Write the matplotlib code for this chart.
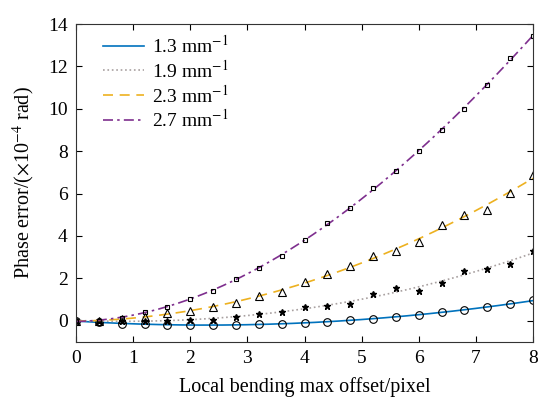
import numpy as np
import matplotlib
matplotlib.use("Agg")
import matplotlib.pyplot as plt

plt.rcParams['font.family'] = ['Liberation Serif', 'DejaVu Serif']
plt.rcParams['mathtext.fontset'] = 'stix'

x = [0, 0.4, 0.8, 1.2, 1.6, 2.0, 2.4, 2.8, 3.2, 3.6, 4.0, 4.4, 4.8, 5.2, 5.6, 6.0, 6.4, 6.8, 7.2, 7.6, 8.0]
y13 = [0, -0.07, -0.14, -0.17, -0.2, -0.2, -0.2, -0.18, -0.17, -0.14, -0.09, -0.04, 0.02, 0.09, 0.19, 0.29, 0.4, 0.51, 0.65, 0.78, 0.97]
y19 = [0, 0, 0.0, 0.0, 0.0, 0.04, 0.04, 0.19, 0.32, 0.43, 0.65, 0.7, 0.78, 1.26, 1.53, 1.42, 1.77, 2.36, 2.43, 2.68, 3.31]
y23 = [0, 0.0, 0.09, 0.16, 0.35, 0.48, 0.64, 0.86, 1.19, 1.34, 1.83, 2.19, 2.58, 3.07, 3.31, 3.73, 4.53, 4.99, 5.24, 6.04, 6.86]
y27 = [0, 0.0, 0.15, 0.42, 0.65, 1.04, 1.42, 1.96, 2.5, 3.07, 3.81, 4.63, 5.32, 6.26, 7.05, 8.01, 9.01, 9.99, 11.14, 12.38, 13.45]

labels = [r'1.3 mm$^{-1}$', r'1.9 mm$^{-1}$', r'2.3 mm$^{-1}$', r'2.7 mm$^{-1}$']
series = [y13, y19, y23, y27]
colors = ['#0072BD', '#A8A0A0', '#EDB120', '#7E2F8E']
styles = ['-', ':', (0, (6, 4)), (0, (6, 2.5, 1.5, 2.5))]
markers = ['o', '*', '^', 's']
msizes = [5.5, 5, 6, 3.5]

fig = plt.figure(figsize=(5.38, 4.05), dpi=100)
ax = fig.add_axes([0.1413, 0.1556, 0.8494, 0.7851])

xa = np.array(x)
xf = np.linspace(0, 8, 200)
for ys, lab, c, ls, m, ms in zip(series, labels, colors, styles, markers, msizes):
    p = np.polyfit(xa, np.array(ys), 3)
    ax.plot(xf, np.polyval(p, xf), color=c, linestyle=ls, linewidth=1.2, label=lab)
    if m == '*':
        ax.plot(x, ys, linestyle='none', marker=m, markersize=ms, color='black')
    else:
        ax.plot(x, ys, linestyle='none', marker=m, markersize=ms,
                markerfacecolor='none', markeredgecolor='black', markeredgewidth=0.8)

ax.set_xlim(0, 8)
ax.set_ylim(-1, 14)
ax.set_xticks(range(0, 9))
ax.set_yticks(range(0, 15, 2))
ax.tick_params(direction='in', top=True, right=True, length=4, labelsize=14, width=0.8, pad=6)
for s in ax.spines.values():
    s.set_linewidth(0.8)
    s.set_color('#333333')

ax.set_xlabel('Local bending max offset/pixel', fontsize=14.5, labelpad=7)
ax.set_ylabel(r'Phase error/($\times$10$^{-4}$ rad)', fontsize=14.5, labelpad=8)

leg = ax.legend(loc='upper left', frameon=False, fontsize=14, handlelength=2.15,
                handletextpad=0.4, labelspacing=0.15, borderaxespad=0.0, borderpad=0.0,
                bbox_to_anchor=(0.058, 0.967))

fig.savefig('out.png', dpi=100)
